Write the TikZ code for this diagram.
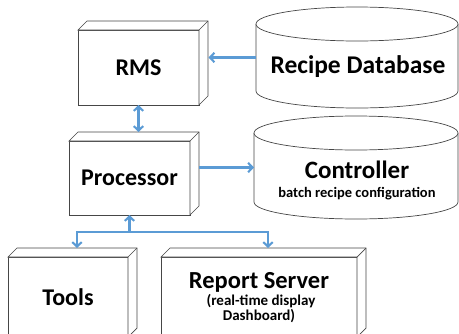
\documentclass[tikz,border=0pt]{standalone}
\usepackage{fontspec}
\setmainfont{Carlito}
\usetikzlibrary{arrows.meta,calc}

\definecolor{linkblue}{RGB}{91,155,213}
\definecolor{edgegray}{RGB}{70,70,70}

\tikzset{
  edge/.style={draw=edgegray, line width=0.7pt},
  cubefront/.style={edge, fill=white, inner sep=0pt, outer sep=0pt,
    font=\bfseries\fontsize{24}{26}\selectfont},
  cylbody/.style={inner sep=0pt, outer sep=0pt},
  title/.style={font=\bfseries\fontsize{24.5}{26}\selectfont, inner sep=0pt, anchor=base},
  note/.style={font=\bfseries\fontsize{15}{16}\selectfont, inner sep=0pt, anchor=base},
  link/.style={draw=linkblue, line width=2.1pt,
    arrows={-Straight Barb[length=4.5pt,width=9.5pt]}},
  dlink/.style={link, arrows={Straight Barb[length=4.5pt,width=9.5pt]-Straight Barb[length=4.5pt,width=9.5pt]}},
}

% top and right faces of a box, drawn beside its front face
\newcommand{\cubefaces}[1]{%
  \draw[edge, fill=white] (#1.north west) -- ++(9,-9) -- ($(#1.north east)+(9,-9)$)
    -- ($(#1.south east)+(9,-9)$) -- (#1.south east) -- (#1.north east) -- cycle;
  \draw[edge] (#1.north east) -- ++(9,-9);
}

% outline of a drum: top ellipse, sides and front half of the base
\newcommand{\drum}[2]{%
  \draw[edge, fill=white] (#1.north west) -- (#1.south west)
    arc[start angle=180, end angle=360, x radius=#2, y radius=17pt]
    -- (#1.north east);
  \draw[edge, fill=white] (#1.north) ellipse[x radius=#2, y radius=17pt];
}

\begin{document}
\begin{tikzpicture}[x=1pt, y=-1pt]
  \useasboundingbox (0,0) rectangle (459,333);
  \clip (0,0) rectangle (459,333);

  % boxes
  \node[cubefront, minimum width=121pt, minimum height=75pt] (rms) at (138.5,67.5) {RMS};
  \cubefaces{rms}
  \node[cubefront, minimum width=121pt, minimum height=74pt] (proc) at (129.5,178) {Processor};
  \cubefaces{proc}
  \node[cubefront, minimum width=120pt, minimum height=80pt] (tools) at (68,297) {Tools};
  \cubefaces{tools}
  \node[cubefront, minimum width=196pt, minimum height=80pt] (report) at (259,297) {};
  \cubefaces{report}
  \node[title] (report-title) at (259,288) {Report Server};
  \node[note] (report-note1) at (261,305.5) {(real-time display};
  \node[note] (report-note2) at (259,320) {Dashboard)};

  % drums
  \node[cylbody, minimum width=202pt, minimum height=67pt] (rdb) at (357,57.5) {};
  \drum{rdb}{101pt}
  \node[title, font=\bfseries\fontsize{25.5}{26}\selectfont] (rdb-title) at (358,73) {Recipe Database};

  \node[cylbody, minimum width=204pt, minimum height=69pt] (ctrl) at (356,167.5) {};
  \drum{ctrl}{102pt}
  \node[title, font=\bfseries\fontsize{25}{26}\selectfont] (ctrl-title) at (357,178) {Controller};
  \node[note, font=\bfseries\fontsize{14.5}{16}\selectfont] (ctrl-note) at (357,197) {batch recipe configuration};

  % connectors
  \coordinate (rms-side) at ($(rms.east)+(9.5,0)$);
  \coordinate (proc-side) at ($(proc.east)+(9,0)$);
  \coordinate (proc-top) at ($(proc.north)+(9,-9)$);
  \coordinate (tools-top) at ($(tools.north)+(9,-9)$);
  \coordinate (report-top) at ($(report.north)+(9,-9)$);

  \draw[link] (rdb.west) -- (rdb.west -| rms-side);
  \draw[link] (proc-side |- ctrl.west) -- (ctrl.west);
  \draw[dlink] (rms.south) -- (rms.south |- proc-top);
  \draw[link] ($(proc.south)+(0,17)$) coordinate (bus) -- (proc.south);
  \draw[link] (bus) -| (tools-top);
  \draw[link] (bus) -| (report-top);
\end{tikzpicture}
\end{document}
